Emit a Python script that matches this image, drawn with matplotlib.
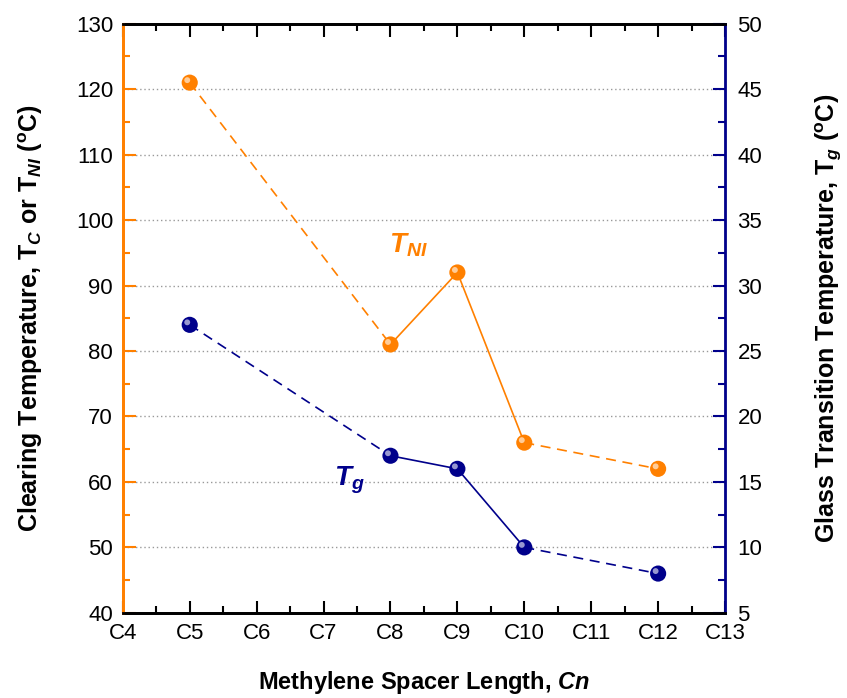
import numpy as np
import matplotlib
matplotlib.use("Agg")
import matplotlib.pyplot as plt
import matplotlib.transforms as mtransforms
from matplotlib.ticker import MultipleLocator

plt.rcParams['font.family'] = ['Liberation Sans', 'DejaVu Sans']
plt.rcParams['mathtext.fontset'] = 'custom'
plt.rcParams['mathtext.rm'] = 'Liberation Sans'
plt.rcParams['mathtext.bf'] = 'Liberation Sans:bold'
plt.rcParams['mathtext.it'] = 'Liberation Sans:italic'
plt.rcParams['mathtext.bfit'] = 'Liberation Sans:bold:italic'

# --- datos ---
spacer = [5, 8, 9, 10, 12]
t_ni = [121, 81, 92, 66, 62]     # eje izquierdo
t_g = [27, 17, 16, 10, 8]        # eje derecho
x_ticks = list(range(4, 14))
x_labels = [f"C{n}" for n in x_ticks]

ORANGE = '#FF8000'
NAVY = '#00008B'


def draw_series(ax, x, y, color):
    # segmentos: discontinuo C5-C8, continuo C8-C10, discontinuo C10-C12
    ax.plot(x[0:2], y[0:2], ls=(0, (6, 4)), color=color, lw=1.2, zorder=2)
    ax.plot(x[1:4], y[1:4], ls='-', color=color, lw=1.2, zorder=2)
    ax.plot(x[3:5], y[3:5], ls=(0, (6, 4)), color=color, lw=1.2, zorder=2)
    # marcador tipo esfera con brillo
    ax.scatter(x, y, s=135, color=color, zorder=3, edgecolors='none')
    shift = mtransforms.offset_copy(ax.transData, fig=ax.figure, x=-1.8, y=1.8, units='points')
    ax.scatter(x, y, s=18, color='white', alpha=0.6, zorder=4,
               edgecolors='none', transform=shift)


fig = plt.figure(figsize=(8.47, 6.98), dpi=100)
ax = fig.add_axes([0.145, 0.122, 0.711, 0.844])
ax2 = ax.twinx()

ax.set_xlim(4, 13)
ax.set_ylim(40, 130)
ax2.set_ylim(5, 50)

ax.set_xticks(x_ticks)
ax.set_xticklabels(x_labels)
ax.xaxis.set_minor_locator(MultipleLocator(0.5))
ax.yaxis.set_major_locator(MultipleLocator(10))
ax.yaxis.set_minor_locator(MultipleLocator(5))
ax2.yaxis.set_major_locator(MultipleLocator(5))
ax2.yaxis.set_minor_locator(MultipleLocator(2.5))

ax.grid(axis='y', which='major', ls=(0, (1, 2)), color='#999999', lw=1)

ax.tick_params(axis='x', which='both', direction='in', top=True, labelsize=16, pad=7, color='black')
ax.tick_params(axis='x', which='major', length=9, width=1.5)
ax.tick_params(axis='x', which='minor', length=5, width=1.5)
ax.tick_params(axis='y', which='both', direction='in', colors=ORANGE, labelcolor='black',
               labelsize=16, width=1.5, pad=7)
ax.tick_params(axis='y', which='major', length=9)
ax.tick_params(axis='y', which='minor', length=5)
ax2.tick_params(axis='y', which='both', direction='in', colors=NAVY, labelcolor='black',
                labelsize=16, width=1.5, pad=9)
ax2.tick_params(axis='y', which='major', length=9)
ax2.tick_params(axis='y', which='minor', length=5)

for s in ['top', 'bottom']:
    ax.spines[s].set_linewidth(2)
    ax2.spines[s].set_linewidth(2)
ax2.spines['left'].set_color(ORANGE)
ax2.spines['left'].set_linewidth(2)
ax2.spines['right'].set_color(NAVY)
ax2.spines['right'].set_linewidth(2)
ax.spines['left'].set_color(ORANGE)
ax.spines['left'].set_linewidth(2)

draw_series(ax, spacer, t_ni, ORANGE)
draw_series(ax2, spacer, t_g, NAVY)

ax.text(7.98, 95.0, r'$\mathbfit{T}_{\mathbfit{NI}}$', color=ORANGE, fontsize=20)
ax.text(7.15, 59.5, r'$\mathbfit{T}_{\mathbfit{g}}$', color=NAVY, fontsize=20)

ax.set_xlabel(r'Methylene Spacer Length, $\mathbfit{Cn}$', fontsize=17, fontweight='bold', labelpad=18)
ax.set_ylabel(r'Clearing Temperature, T$_{\mathbfit{C}}$ or T$_{\mathbfit{NI}}$ ($^{\mathbf{o}}$C)',
              fontsize=18, fontweight='bold', labelpad=22)
ax2.set_ylabel(r'Glass Transition Temperature, T$_{\mathbfit{g}}$ ($^{\mathbf{o}}$C)',
               fontsize=18, fontweight='bold', labelpad=37)

fig.savefig('out.png', dpi=100)
